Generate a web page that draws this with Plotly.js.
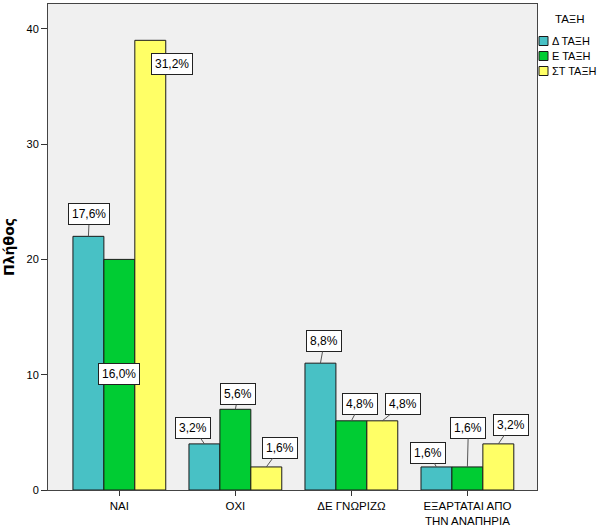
<!DOCTYPE html>
<html>
<head>
<meta charset="utf-8">
<script src="https://cdn.plot.ly/plotly-3.0.1.min.js"></script>
<style>html,body{margin:0;padding:0;background:#fff;}#chart{width:601px;height:526px;}</style>
</head>
<body>
<div id="chart"></div>
<script>
// ---- data ----
const categories = ['ΝΑΙ', 'ΟΧΙ', 'ΔΕ ΓΝΩΡΙΖΩ', 'ΕΞΑΡΤΑΤΑΙ ΑΠΟ<br>ΤΗΝ ΑΝΑΠΗΡΙΑ'];
const seriesNames = ['Δ ΤΑΞΗ', 'Ε ΤΑΞΗ', 'ΣΤ ΤΑΞΗ'];
const valuesD  = [22, 4, 11, 2];
const valuesE  = [20, 7, 6, 2];
const valuesST = [39, 2, 6, 4];
const labelsD  = ['17,6%', '3,2%', '8,8%', '1,6%'];
const labelsE  = ['16,0%', '5,6%', '4,8%', '1,6%'];
const labelsST = ['31,2%', '1,6%', '4,8%', '3,2%'];
const legendTitle = 'ΤΑΞΗ';
const yTitle = 'Πλήθος';
const yTicks = [0, 10, 20, 30, 40];

// ---- styling ----
const colors = ['#48C1C5', '#00CC33', '#FFFF66'];
const FONT = 'Liberation Sans, Arial, sans-serif';
const margin = {l: 48, r: 64, t: 4, b: 36};
const W = 601, H = 526;
const pw = W - margin.l - margin.r, ph = H - margin.t - margin.b;
const bargap = 0.2;
// label box offsets (pixels) relative to the bar top: [ax, ay, showLine]
const labelOffsets = [
  [[1, -22, 1], [-11, -16, 1], [4, -22, 1], [-8, -14, 1]],
  [[0, 115, 0], [3, -15, 1], [9, -17, 1], [1, -39, 1]],
  [[22, 24, 0], [14, -19, 1], [21, -17, 1], [13, -19, 1]]
];

const allValues = [valuesD, valuesE, valuesST];
const allLabels = [labelsD, labelsE, labelsST];

const traces = allValues.map((vals, s) => ({
  type: 'bar',
  name: seriesNames[s],
  x: categories,
  y: vals,
  marker: {color: colors[s], line: {color: '#1a1a1a', width: 1}},
  showlegend: false,
  hoverinfo: 'x+y+name'
}));

const annotations = [];
const barW = (1 - bargap) / seriesNames.length;
allValues.forEach((vals, s) => {
  vals.forEach((v, c) => {
    const off = labelOffsets[s][c];
    annotations.push({
      xref: 'x', yref: 'y',
      x: c + (s - (seriesNames.length - 1) / 2) * barW,
      y: v,
      text: allLabels[s][c],
      showarrow: true, arrowhead: 0, arrowwidth: 1, standoff: 0,
      arrowcolor: off[2] ? '#555555' : 'rgba(0,0,0,0)',
      ax: off[0], ay: off[1],
      bgcolor: '#ffffff', bordercolor: '#222222', borderwidth: 1, borderpad: 3,
      font: {family: FONT, size: 12, color: '#000'}
    });
  });
});

// custom legend (pixel positions converted to paper coords)
const px = x => (x - margin.l) / pw;
const py = y => (margin.t + ph - y) / ph;
const shapes = [];
annotations.push({
  xref: 'paper', yref: 'paper', x: px(570), y: py(19),
  xanchor: 'center', yanchor: 'middle', showarrow: false,
  text: legendTitle, font: {family: FONT, size: 11.5, color: '#000'}
});
const rowY = [41, 56, 71];
seriesNames.forEach((n, s) => {
  shapes.push({
    type: 'rect', xref: 'paper', yref: 'paper',
    x0: px(539), x1: px(548), y0: py(rowY[s] - 4.5), y1: py(rowY[s] + 4.5),
    fillcolor: colors[s], line: {color: '#1a1a1a', width: 1}
  });
  annotations.push({
    xref: 'paper', yref: 'paper', x: px(550), y: py(rowY[s]),
    xanchor: 'left', yanchor: 'middle', showarrow: false,
    text: n, font: {family: FONT, size: 11, color: '#000'}
  });
});

const layout = {
  width: W, height: H,
  margin: margin,
  paper_bgcolor: '#ffffff',
  plot_bgcolor: '#F0F0F0',
  barmode: 'group',
  bargap: bargap, bargroupgap: 0,
  font: {family: FONT, size: 11, color: '#000'},
  xaxis: {
    type: 'category',
    range: [-0.615, 3.6],
    showline: true, mirror: true, linecolor: '#444', linewidth: 1,
    ticks: 'outside', ticklen: 5, tickcolor: '#333',
    tickfont: {family: FONT, size: 11.5, color: '#000'},
    showgrid: false, zeroline: false, fixedrange: true
  },
  yaxis: {
    range: [0, 42.15],
    tickvals: yTicks,
    showline: true, mirror: true, linecolor: '#444', linewidth: 1,
    ticks: 'outside', ticklen: 6, tickcolor: '#333',
    tickfont: {family: FONT, size: 11, color: '#000'},
    showgrid: false, zeroline: false, fixedrange: true,
    title: {text: yTitle, font: {family: 'DejaVu Sans, sans-serif', size: 14, color: '#000', weight: 'bold'}, standoff: 8}
  },
  annotations: annotations,
  shapes: shapes
};

Plotly.newPlot('chart', traces, layout, {displayModeBar: false, staticPlot: true});
</script>
</body>
</html>
